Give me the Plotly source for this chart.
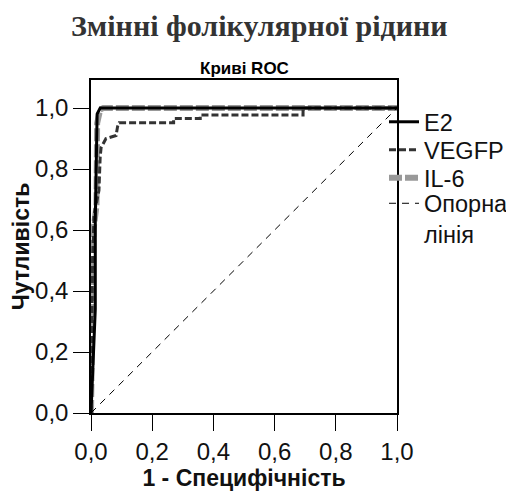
import plotly.graph_objects as go

# Data
e2_fpr = [0.0, 0.014, 0.014, 0.02, 0.03, 1.0]
e2_tpr = [0.0, 0.34, 0.63, 0.98, 1.0, 1.0]

vegfp_fpr = [0.0, 0.005, 0.01, 0.026, 0.03, 0.033, 0.049, 0.082, 0.087, 0.092, 0.27, 0.27, 0.357, 0.357, 0.693, 0.693, 1.0]
vegfp_tpr = [0.0, 0.5, 0.65, 0.73, 0.84, 0.87, 0.90, 0.91, 0.94, 0.952, 0.952, 0.966, 0.966, 0.977, 0.977, 1.0, 1.0]

il6_fpr = [0.0, 0.005, 0.008, 0.018, 0.02, 0.03, 0.04, 1.0]
il6_tpr = [0.0, 0.3, 0.6, 0.68, 0.95, 0.995, 1.0, 1.0]

ref_fpr = [0.0, 1.0]
ref_tpr = [0.0, 1.0]

tick_vals = [0.0, 0.2, 0.4, 0.6, 0.8, 1.0]
tick_text = ["0,0", "0,2", "0,4", "0,6", "0,8", "1,0"]

series_names = ["E2", "VEGFP", "IL-6", "Опорна<br>лінія"]

fig = go.Figure()
# drawn in this order (gray IL-6 underneath); each entry gets its own legend box
fig.add_trace(go.Scatter(x=il6_fpr, y=il6_tpr, mode="lines", name=series_names[2], legend="legend3",
                         line=dict(color="#999999", width=6, dash="13px,3px")))
fig.add_trace(go.Scatter(x=vegfp_fpr, y=vegfp_tpr, mode="lines", name=series_names[1], legend="legend2",
                         line=dict(color="#333333", width=3, dash="7px,3px")))
fig.add_trace(go.Scatter(x=e2_fpr, y=e2_tpr, mode="lines", name=series_names[0], legend="legend",
                         line=dict(color="#000000", width=3)))
fig.add_trace(go.Scatter(x=ref_fpr, y=ref_tpr, mode="lines", name=series_names[3], legend="legend4",
                         line=dict(color="#000000", width=1, dash="7px,6px")))

font_sans = "Liberation Sans, Arial, sans-serif"

# page body has an 8px margin, so the figure is 16px smaller than the window
W, H = 506, 486
L, R, T, B = 83, 117, 72, 81
PW = W - L - R
PH = H - T - B
OFF = 8


def px_x(px):
    return (px - OFF - L) / PW


def px_y(py):
    return 1 - (py - OFF - T) / PH


def leg(py, valign="middle"):
    return dict(x=px_x(384), xanchor="left", y=px_y(py), yanchor="middle", valign=valign,
                font=dict(size=23.5, family=font_sans, color="#111111"),
                itemwidth=30, bgcolor="rgba(0,0,0,0)", borderwidth=0)


fig.update_layout(
    width=W, height=H,
    margin=dict(l=L, r=R, t=T, b=B, autoexpand=False),
    paper_bgcolor="white", plot_bgcolor="white",
    font=dict(family=font_sans, color="#111111", size=23),
    showlegend=True,
    legend=leg(122),
    legend2=leg(150),
    legend3=leg(178),
    legend4=leg(219, "top"),
    annotations=[
        dict(text="<b>Змінні фолікулярної рідини</b>", x=px_x(259), xref="paper", xanchor="center",
             y=px_y(26), yref="paper", yanchor="middle", showarrow=False,
             font=dict(family="Liberation Serif, serif", size=30, color="#333333")),
        dict(text="<b>Криві ROC</b>", x=0.5, xref="paper", xanchor="center",
             y=px_y(69), yref="paper", yanchor="middle", showarrow=False,
             font=dict(family=font_sans, size=17, color="#000000")),
    ],
    xaxis=dict(range=[0, 1], tickvals=tick_vals, ticktext=tick_text, ticks="outside", ticklen=16,
               tickcolor="#000", tickwidth=1, showline=True, linecolor="#000", linewidth=1.5,
               mirror=True, showgrid=False, zeroline=False, automargin=False,
               title=dict(text="<b>1 - Специфічність</b>", font=dict(size=23), standoff=1),
               tickfont=dict(size=24)),
    yaxis=dict(range=[0, 1.092], tickvals=tick_vals, ticktext=tick_text, ticks="outside", ticklen=16,
               tickcolor="#000", tickwidth=1, showline=True, linecolor="#000", linewidth=1.5,
               mirror=True, showgrid=False, zeroline=False, automargin=False,
               title=dict(text="<b>Чутливість</b>", font=dict(size=23), standoff=6),
               tickfont=dict(size=24)),
)

fig.write_html("out.html")
